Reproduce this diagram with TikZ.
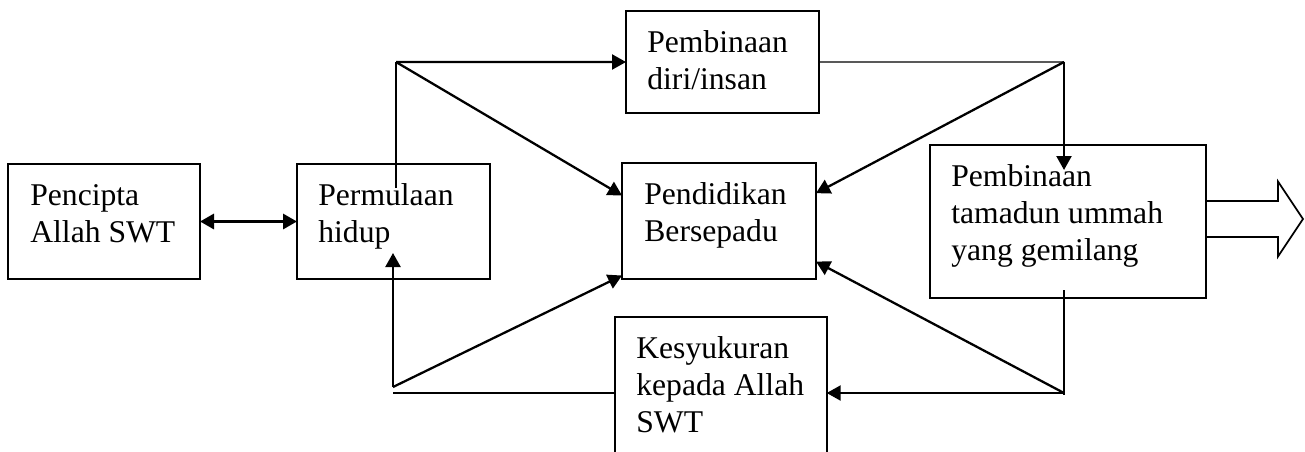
\documentclass[tikz,border=0pt]{standalone}
\usepackage{fontspec}
\setmainfont{Liberation Serif}
\usetikzlibrary{arrows, arrows.meta, calc}

\begin{document}
\begin{tikzpicture}[
  kotak/.style={draw, line width=1.1pt, anchor=north west, inner sep=0pt, outer sep=0pt},
  teks/.style={anchor=base west, align=left, inner sep=0pt, font=\fontsize{18}{21}\selectfont},
  panah/.style={line width=1.3pt, -{Triangle[length=0.28cm,width=0.3cm]}},
  garis/.style={line width=0.75pt}]
\useasboundingbox (0,0) rectangle (26.1,9.02);
%\draw[step=0.5cm,gray,very thin] (0,0) grid (26.1,9.02); %background grid
% kotak
\node[kotak, minimum width=3.84cm, minimum height=2.3cm] (pencipta) at (0.16,5.74) {};
\node[kotak, minimum width=3.86cm, minimum height=2.3cm] (permulaan) at (5.94,5.74) {};
\node[kotak, minimum width=3.86cm, minimum height=2.04cm] (diri) at (12.52,8.8) {};
\node[kotak, minimum width=3.88cm, minimum height=2.32cm] (pendidikan) at (12.44,5.76) {};
\node[kotak, minimum width=5.52cm, minimum height=3.06cm] (tamadun) at (18.6,6.12) {};
\node[anchor=north west, inner sep=0pt, minimum width=4.22cm, minimum height=2.68cm] (syukur) at (12.3,2.68) {};
\draw[line width=1.1pt] (syukur.south west) -- (syukur.north west) -- (syukur.north east) -- (syukur.south east); % terbuka di bawah
% teks (base = garis terakhir)
\node[teks] (tpencipta) at ($(pencipta.north west)+(0.44,-1.56)$) {Pencipta\\Allah SWT};
\node[teks] (tpermulaan) at ($(permulaan.north west)+(0.42,-1.56)$) {Permulaan\\hidup};
\node[teks] (tdiri) at ($(diri.north west)+(0.42,-1.56)$) {Pembinaan\\diri/insan};
\node[teks] (tpendidikan) at ($(pendidikan.north west)+(0.44,-1.56)$) {Pendidikan\\Bersepadu};
\node[teks] (ttamadun) at ($(tamadun.north west)+(0.42,-2.3)$) {Pembinaan\\tamadun ummah\\yang gemilang};
\node[teks] (tsyukur) at ($(syukur.north west)+(0.42,-2.3)$) {Kesyukuran\\kepada Allah\\SWT};
% titik simpang
\coordinate (jtl) at (7.92,7.78);
\coordinate (atasP) at (7.92,5.26);
\coordinate (jbl) at (7.86,1.28);
\coordinate (tipP) at (7.86,3.96);
\coordinate (gbl) at (7.86,1.16);
\coordinate (jtr) at (21.28,7.78);
\coordinate (tipT) at (21.28,5.62);
\coordinate (bawahT) at (21.28,3.22);
\coordinate (jbr) at (21.28,1.16);
\coordinate (pdA) at ($(pendidikan.north west)!0.28!(pendidikan.south west)$);
\coordinate (pdB) at ($(pendidikan.north west)!0.97!(pendidikan.south west)$);
\coordinate (pdC) at ($(pendidikan.north east)!0.26!(pendidikan.south east)$);
\coordinate (pdD) at ($(pendidikan.north east)!0.85!(pendidikan.south east)$);
% penghubung
\draw[line width=1.8pt, {Triangle[length=0.28cm,width=0.3cm]}-{Triangle[length=0.28cm,width=0.3cm]}] (pencipta.east) -- (permulaan.west);
\draw[garis] (atasP) -- (jtl);
\draw[panah] (jtl) -- (diri.west);
\draw[panah] (jtl) -- (pdA);
\draw[panah] (jbl) -- (tipP);
\draw[panah] (jbl) -- (pdB);
\draw[garis] (gbl) -- (gbl -| syukur.west);
\draw[garis] (diri.east) -- (jtr);
\draw[panah] (jtr) -- (tipT);
\draw[panah] (jtr) -- (pdC);
\draw[garis] (bawahT) -- ($(jbr)+(0,-0.04)$);
\draw[panah] (jbr) -- (pdD);
\draw[panah] (jbr) -- (jbr -| syukur.east);
% anak panah besar
\coordinate (blok) at (tamadun.east |- 0,4.64);
\draw[line width=1pt] ($(blok)+(0,0.36)$) -- ++(1.44,0) -- ++(0,0.39) -- ++(0.5,-0.75) -- ++(-0.5,-0.75) -- ++(0,0.39) -- ++(-1.44,0);
\end{tikzpicture}
\end{document}
